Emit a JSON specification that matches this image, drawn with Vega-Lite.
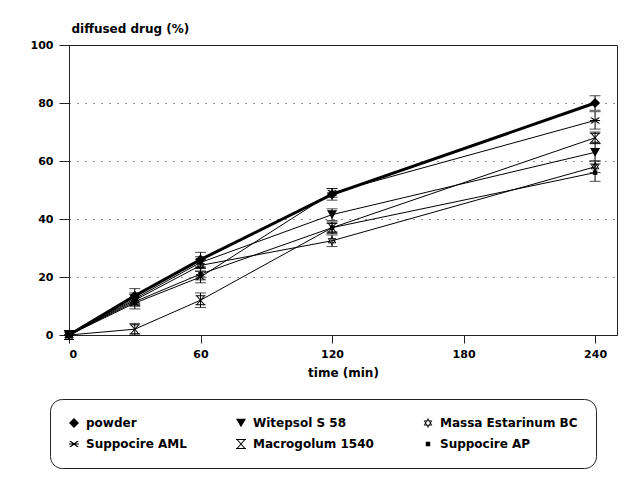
{
  "$schema": "https://vega.github.io/schema/vega-lite/v6.json",
  "width": 548,
  "height": 290,
  "autosize": "none",
  "padding": {"left": 69, "top": 45, "right": 19, "bottom": 146},
  "background": "white",
  "config": {
    "font": "DejaVu Sans",
    "view": {"stroke": "#222", "strokeWidth": 1},
    "axis": {
      "labelFont": "DejaVu Sans", "labelFontWeight": "bold", "labelFontSize": 11, "labelColor": "black",
      "titleFont": "DejaVu Sans", "titleFontWeight": "bold", "titleFontSize": 12, "titleColor": "black",
      "domainColor": "#222", "tickColor": "#222", "gridColor": "#222", "gridDash": [1, 7], "gridOpacity": 1
    }
  },
  "data": {"values": [
    {"series": "powder", "time": 0, "value": 0, "lo": 0, "hi": 0},
    {"series": "powder", "time": 30, "value": 13.5, "lo": 11, "hi": 16},
    {"series": "powder", "time": 60, "value": 26, "lo": 23.5, "hi": 28.5},
    {"series": "powder", "time": 120, "value": 48.5, "lo": 46.5, "hi": 50.5},
    {"series": "powder", "time": 240, "value": 80, "lo": 77.5, "hi": 82.5},
    {"series": "Witepsol S 58", "time": 0, "value": 0, "lo": 0, "hi": 0},
    {"series": "Witepsol S 58", "time": 30, "value": 12.5, "lo": 10.5, "hi": 14.5},
    {"series": "Witepsol S 58", "time": 60, "value": 25, "lo": 23, "hi": 27},
    {"series": "Witepsol S 58", "time": 120, "value": 41.5, "lo": 39.5, "hi": 43.5},
    {"series": "Witepsol S 58", "time": 240, "value": 63, "lo": 60, "hi": 66},
    {"series": "Massa Estarinum BC", "time": 0, "value": 0, "lo": 0, "hi": 0},
    {"series": "Massa Estarinum BC", "time": 30, "value": 12, "lo": 10, "hi": 14},
    {"series": "Massa Estarinum BC", "time": 60, "value": 24, "lo": 22, "hi": 26},
    {"series": "Massa Estarinum BC", "time": 120, "value": 32.5, "lo": 30.5, "hi": 34.5},
    {"series": "Massa Estarinum BC", "time": 240, "value": 58, "lo": 56, "hi": 60},
    {"series": "Suppocire AML", "time": 0, "value": 0, "lo": 0, "hi": 0},
    {"series": "Suppocire AML", "time": 30, "value": 11, "lo": 9, "hi": 13},
    {"series": "Suppocire AML", "time": 60, "value": 20, "lo": 18, "hi": 22},
    {"series": "Suppocire AML", "time": 120, "value": 49, "lo": 47.5, "hi": 50.5},
    {"series": "Suppocire AML", "time": 240, "value": 74, "lo": 71, "hi": 77},
    {"series": "Macrogolum 1540", "time": 0, "value": 0, "lo": 0, "hi": 0},
    {"series": "Macrogolum 1540", "time": 30, "value": 2, "lo": 0, "hi": 4},
    {"series": "Macrogolum 1540", "time": 60, "value": 12, "lo": 9.5, "hi": 14.5},
    {"series": "Macrogolum 1540", "time": 120, "value": 37, "lo": 35, "hi": 39},
    {"series": "Macrogolum 1540", "time": 240, "value": 68, "lo": 66, "hi": 70},
    {"series": "Suppocire AP", "time": 0, "value": 0, "lo": 0, "hi": 0},
    {"series": "Suppocire AP", "time": 30, "value": 11.5, "lo": 10, "hi": 13},
    {"series": "Suppocire AP", "time": 60, "value": 21, "lo": 19, "hi": 23},
    {"series": "Suppocire AP", "time": 120, "value": 37, "lo": 35.5, "hi": 38.5},
    {"series": "Suppocire AP", "time": 240, "value": 56, "lo": 53, "hi": 59}
  ]},
  "encoding": {
    "x": {"field": "time", "type": "quantitative", "title": "time (min)",
          "scale": {"domain": [0, 250], "nice": false},
          "axis": {"values": [0, 60, 120, 180, 240], "grid": false, "tickSize": 8, "labelPadding": 5, "titlePadding": 8}}
  },
  "layer": [
    {
      "transform": [{"filter": "datum.series != 'powder'"}],
      "mark": {"type": "line", "color": "black", "strokeWidth": 1},
      "encoding": {
        "y": {"field": "value", "type": "quantitative", "title": "diffused drug (%)",
              "scale": {"domain": [0, 100], "nice": false},
              "axis": {"values": [0, 20, 40, 60, 80, 100], "tickSize": 10, "labelPadding": 6,
                       "titleAngle": 0, "titleAlign": "left", "titleBaseline": "middle", "titleX": 2, "titleY": -17}},
        "detail": {"field": "series"}
      }
    },
    {
      "transform": [{"filter": "datum.series == 'powder'"}],
      "mark": {"type": "line", "color": "black", "strokeWidth": 3},
      "encoding": {
        "y": {"field": "value", "type": "quantitative", "title": "diffused drug (%)"}
      }
    },
    {
      "transform": [{"filter": "datum.time > 0"}],
      "mark": {"type": "errorbar", "ticks": {"size": 11, "color": "black"}, "rule": {"color": "black"}},
      "encoding": {
        "y": {"field": "lo", "type": "quantitative", "title": "diffused drug (%)"},
        "y2": {"field": "hi"}
      }
    },
    {
      "mark": {"type": "point", "filled": true, "color": "black", "strokeWidth": 0, "opacity": 1, "size": 100},
      "encoding": {
        "y": {"field": "value", "type": "quantitative", "title": "diffused drug (%)"},
        "shape": {"field": "series", "type": "nominal",
                  "scale": {"domain": ["powder", "Witepsol S 58", "Massa Estarinum BC", "Suppocire AML", "Macrogolum 1540", "Suppocire AP"],
                            "range": ["diamond", "triangle-down",
                                      "M0,-1L0.87,0.5L-0.87,0.5ZM0,-0.68L-0.59,0.34L0.59,0.34ZM0,1L-0.87,-0.5L0.87,-0.5ZM0,0.68L0.59,-0.34L-0.59,-0.34Z",
                                      "M-1,-0.6L-0.6,-0.6L1,0.6L0.6,0.6ZM0.6,-0.6L1,-0.6L-0.6,0.6L-1,0.6ZM-1,-0.1L1,-0.1L1,0.1L-1,0.1Z",
                                      "M-1,-1L1,-1L1,-0.8L-1,-0.8ZM-1,0.8L1,0.8L1,1L-1,1ZM-1,-1L-0.75,-1L1,1L0.75,1ZM0.75,-1L1,-1L-0.75,1L-1,1Z",
                                      "M-0.45,-0.45L0.45,-0.45L0.45,0.45L-0.45,0.45Z"]},
                  "legend": {"title": null, "orient": "none", "legendX": -19, "legendY": 354, "direction": "horizontal", "columns": 3,
                             "columnPadding": 48, "rowPadding": 9, "padding": 18, "strokeColor": "#222", "fillColor": "white", "cornerRadius": 12,
                             "labelFont": "DejaVu Sans", "labelFontWeight": "bold", "labelFontSize": 12, "labelColor": "black", "labelLimit": 300,
                             "symbolSize": 100, "symbolFillColor": "black", "symbolStrokeWidth": 0, "labelOffset": 6}}
      }
    }
  ]
}
